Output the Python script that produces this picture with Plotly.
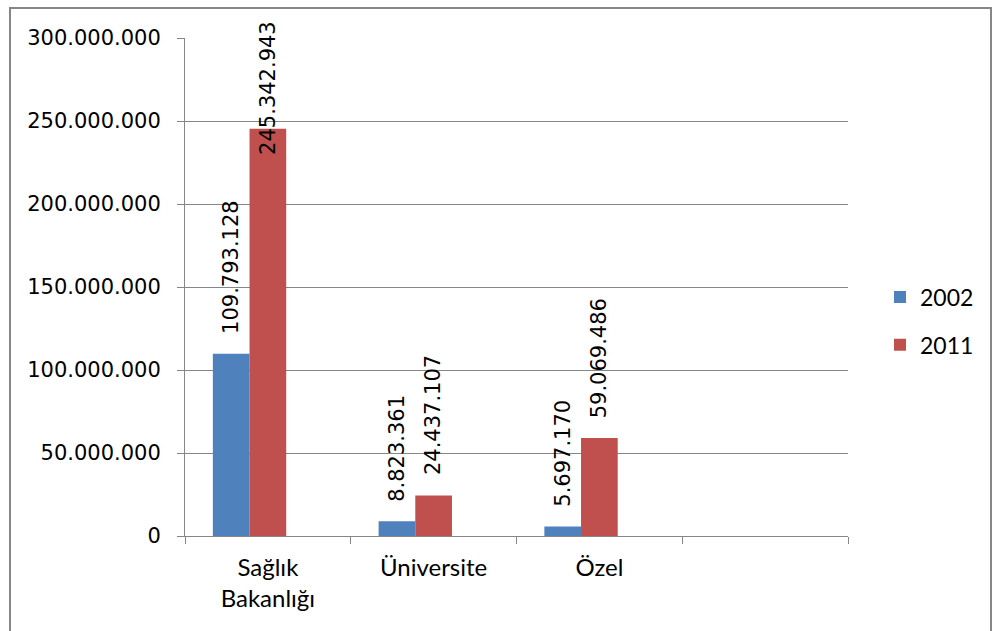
import plotly.graph_objects as go

categories = ["Sağlık<br>Bakanlığı", "Üniversite", "Özel", " "]
series_names = ["2002", "2011"]
values_2002 = [109793128, 8823361, 5697170, None]
values_2011 = [245342943, 24437107, 59069486, None]
y_ticks = [0, 50000000, 100000000, 150000000, 200000000, 250000000, 300000000]

colors = ["#4F81BD", "#C0504D"]
W, H = 993, 631
ML, MR, MT, MB = 185, 145, 38, 95
plot_w = W - ML - MR
plot_h = H - MT - MB
ymax = 300000000
bargap = 0.336

label_font = dict(family="DejaVu Sans", size=21, color="#000000")

fig = go.Figure()
for name, vals, col in zip(series_names, [values_2002, values_2011], colors):
    fig.add_trace(go.Bar(x=categories, y=vals, name=name, marker=dict(color=col, line=dict(width=0)),
                         legendgroup=name))
# empty third series (keeps the Excel-style group spacing)
fig.add_trace(go.Bar(x=categories, y=[None] * len(categories), name="", showlegend=False,
                     marker=dict(color="rgba(0,0,0,0)")))

# data labels
cat_px = plot_w / len(categories)
slot_px = cat_px * (1 - bargap) / 3
shifts = [-slot_px, 0.0]
px_per_unit = plot_h / ymax
gap_px = 18
label_len_px = 134
annotations = []
for vals, xs in zip([values_2002, values_2011], shifts):
    for c, v in zip(categories, vals):
        if v is None:
            continue
        txt = f"{v:,}".replace(",", ".")
        if v * px_per_unit + gap_px + label_len_px > plot_h + gap_px:
            annotations.append(dict(x=c, y=ymax, xref="x", yref="y", text=txt, showarrow=False,
                                    textangle=-90, yanchor="top", xanchor="center",
                                    xshift=xs, yshift=gap_px + 1, font=label_font))
        else:
            annotations.append(dict(x=c, y=v, xref="x", yref="y", text=txt, showarrow=False,
                                    textangle=-90, yanchor="bottom", xanchor="center",
                                    xshift=xs, yshift=gap_px, font=label_font))

fig.update_layout(
    width=W, height=H,
    margin=dict(l=ML, r=MR, t=MT, b=MB),
    paper_bgcolor="white", plot_bgcolor="white",
    separators=",.",
    barmode="group", bargap=bargap, bargroupgap=0,
    showlegend=True,
    legend=dict(x=(880 - ML) / plot_w, y=(536 - 321) / plot_h, xanchor="left", yanchor="middle",
                font=dict(family="Lato", size=23, color="#000000"),
                traceorder="grouped", tracegroupgap=15, bgcolor="rgba(0,0,0,0)"),
    annotations=annotations,
    shapes=[dict(type="rect", xref="paper", yref="paper",
                 x0=(10 - ML) / plot_w, x1=(991 - ML) / plot_w,
                 y0=(536 - 660) / plot_h, y1=(536 - 8) / plot_h,
                 line=dict(color="#868686", width=2), fillcolor="rgba(0,0,0,0)", layer="below")],
)
fig.update_xaxes(type="category", showgrid=False, showline=True, linecolor="#868686", linewidth=1,
                 ticks="outside", tickson="boundaries", ticklen=7, tickcolor="#868686",
                 tickfont=dict(family="Lato", size=24, color="#000000"), ticklabelstandoff=10,
                 categoryorder="array", categoryarray=categories)
fig.update_yaxes(range=[0, ymax], tickvals=y_ticks, tickformat=",.0f", showgrid=True,
                 gridcolor="#868686", gridwidth=1, showline=True, linecolor="#868686", linewidth=1,
                 ticks="outside", ticklen=7, tickcolor="#868686", zeroline=False,
                 tickfont=dict(family="DejaVu Sans", size=21, color="#000000"), ticklabelstandoff=12)

fig.write_html("out.html")
